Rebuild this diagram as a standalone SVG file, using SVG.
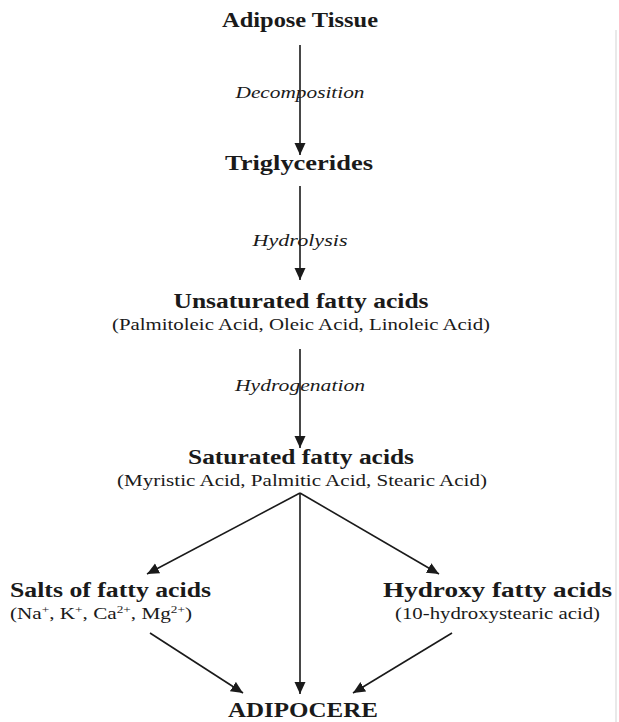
<svg xmlns="http://www.w3.org/2000/svg" width="619" height="722" viewBox="0 0 619 722">
<style>
text{font-family:"Liberation Serif","Times New Roman",serif;fill:#1a1a1a}
.t{font-weight:bold;font-size:20px}
.p{font-size:16px}
.l{font-style:italic;font-size:16px}
.sup{font-size:10px}
.c{stroke:#1a1a1a;stroke-width:1.6;fill:none;marker-end:url(#ah)}
</style>
<defs>
<marker id="ah" markerUnits="userSpaceOnUse" markerWidth="12" markerHeight="12" viewBox="0 0 12 12" refX="12" refY="6" orient="auto">
<path d="M0,0.5 L12,6 L0,11.5 z" fill="#1a1a1a"/>
</marker>
</defs>
<rect width="619" height="722" fill="#fff"/>
<line x1="616" y1="30" x2="616" y2="722" stroke="#e2e2e2" stroke-width="1.5"/>
<g id="connectors">
<line class="c" x1="300" y1="45" x2="300" y2="155"/>
<line class="c" x1="300" y1="186" x2="300" y2="280"/>
<line class="c" x1="300" y1="349" x2="300" y2="448"/>
<line class="c" x1="300" y1="493" x2="147" y2="574"/>
<line class="c" x1="300" y1="493" x2="300" y2="694"/>
<line class="c" x1="300" y1="493" x2="439" y2="574"/>
<line class="c" x1="150" y1="633" x2="243" y2="693"/>
<line class="c" x1="452" y1="633" x2="353" y2="693"/>
</g>
<g id="labels">
<text class="l" x="300" y="98" text-anchor="middle" textLength="129" lengthAdjust="spacingAndGlyphs">Decomposition</text>
<text class="l" x="300" y="246" text-anchor="middle" textLength="95" lengthAdjust="spacingAndGlyphs">Hydrolysis</text>
<text class="l" x="300" y="391" text-anchor="middle" textLength="130" lengthAdjust="spacingAndGlyphs">Hydrogenation</text>
</g>
<g id="adipose-tissue">
<text class="t" x="300" y="27" text-anchor="middle" textLength="156" lengthAdjust="spacingAndGlyphs">Adipose Tissue</text>
</g>
<g id="triglycerides">
<text class="t" x="299" y="170" text-anchor="middle" textLength="148" lengthAdjust="spacingAndGlyphs">Triglycerides</text>
</g>
<g id="unsaturated">
<text class="t" x="301" y="308" text-anchor="middle" textLength="255" lengthAdjust="spacingAndGlyphs">Unsaturated fatty acids</text>
<text class="p" x="301" y="330" text-anchor="middle" textLength="378" lengthAdjust="spacingAndGlyphs">(Palmitoleic Acid, Oleic Acid, Linoleic Acid)</text>
</g>
<g id="saturated">
<text class="t" x="301" y="464" text-anchor="middle" textLength="226" lengthAdjust="spacingAndGlyphs">Saturated fatty acids</text>
<text class="p" x="302" y="486" text-anchor="middle" textLength="370" lengthAdjust="spacingAndGlyphs">(Myristic Acid, Palmitic Acid, Stearic Acid)</text>
</g>
<g id="salts">
<text class="t" x="10" y="597" textLength="201" lengthAdjust="spacingAndGlyphs">Salts of fatty acids</text>
<text class="p" x="10" y="619" textLength="182" lengthAdjust="spacingAndGlyphs">(Na<tspan class="sup" dy="-6">+</tspan><tspan dy="6">, K</tspan><tspan class="sup" dy="-6">+</tspan><tspan dy="6">, Ca</tspan><tspan class="sup" dy="-6">2+</tspan><tspan dy="6">, Mg</tspan><tspan class="sup" dy="-6">2+</tspan><tspan dy="6">)</tspan></text>
</g>
<g id="hydroxy">
<text class="t" x="383" y="597" textLength="229" lengthAdjust="spacingAndGlyphs">Hydroxy fatty acids</text>
<text class="p" x="395" y="619" textLength="205" lengthAdjust="spacingAndGlyphs">(10-hydroxystearic acid)</text>
</g>
<g id="adipocere">
<text class="t" x="303" y="717" text-anchor="middle" textLength="150" lengthAdjust="spacingAndGlyphs">ADIPOCERE</text>
</g>
</svg>
